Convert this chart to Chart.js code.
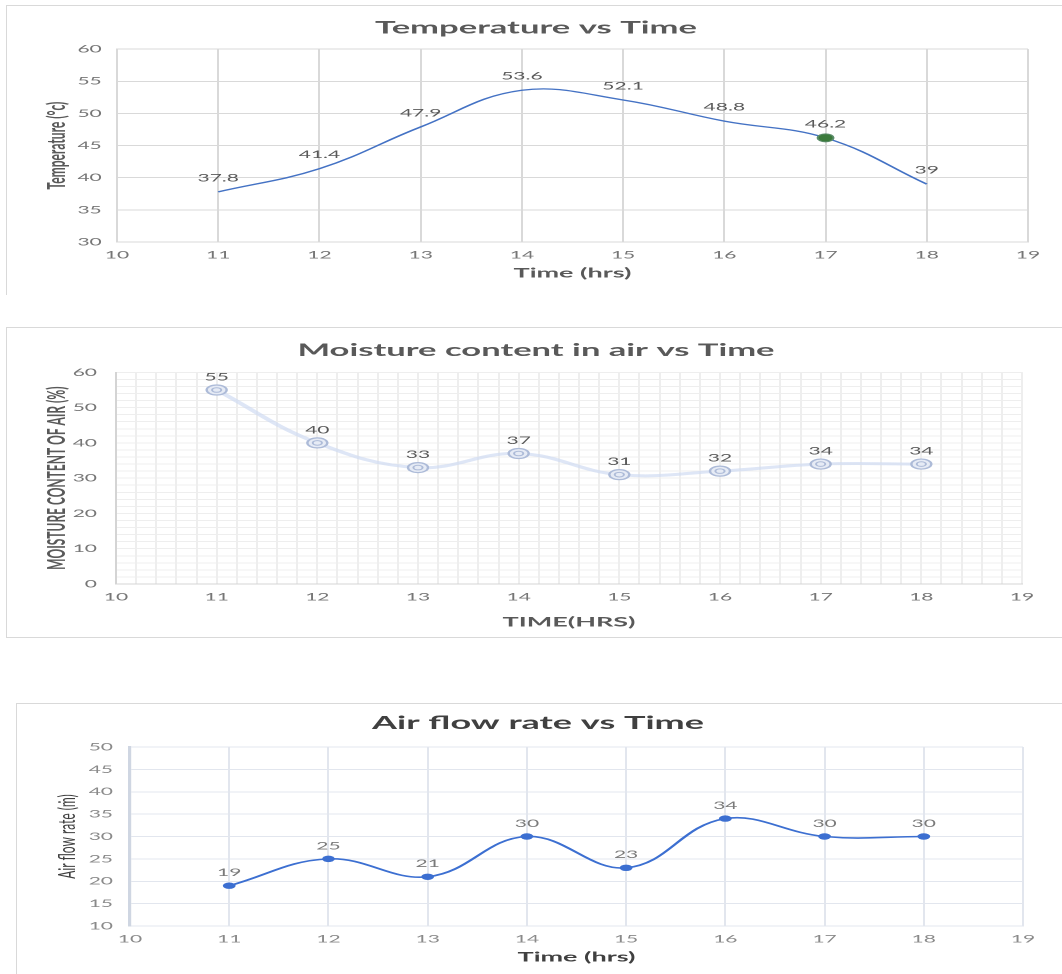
<!DOCTYPE html>
<html><head><meta charset="utf-8">
<script src="https://cdn.jsdelivr.net/npm/chart.js@4.4.1/dist/chart.umd.min.js"></script>
<style>
html,body{margin:0;padding:0;background:#fff;width:1062px;height:974px;overflow:hidden;position:relative}
.box{position:absolute;border:0 solid #d9d9d9;box-sizing:border-box}
.wrap{position:absolute;transform:scaleX(2);transform-origin:0 0}
</style></head><body>
<div class="box" style="left:6px;top:5px;width:1100px;height:290px;border-left-width:1px;border-top-width:1px"></div>
<div class="box" style="left:6px;top:327px;width:1100px;height:311px;border-left-width:1px;border-top-width:1px;border-bottom-width:1px"></div>
<div class="box" style="left:16px;top:703px;width:1100px;height:300px;border-left-width:1px;border-top-width:1px"></div>
<div class="wrap" style="left:6px;top:5px;width:530px;height:285px"><canvas id="c1"></canvas></div>
<div class="wrap" style="left:6px;top:327px;width:530px;height:310px"><canvas id="c2"></canvas></div>
<div class="wrap" style="left:16px;top:703px;width:522px;height:271px"><canvas id="c3"></canvas></div>
<script>
// ---- data ----
const hours = [11, 12, 13, 14, 15, 16, 17, 18];
const temperature = [37.8, 41.4, 47.9, 53.6, 52.1, 48.8, 46.2, 39];
const moisture = [55, 40, 33, 37, 31, 32, 34, 34];
const airflow = [19, 25, 21, 30, 23, 34, 30, 30];
const xRange = [10, 19];
const tempRange = [30, 60, 5];
const moistRange = [0, 60, 10];
const flowRange = [10, 50, 5];
const titles = ["Temperature vs Time", "Moisture content in air vs Time", "Air flow rate vs Time"];
const xTitles = ["Time (hrs)", "TIME(HRS)", "Time (hrs)"];
const yTitles = ["Temperature (°c)", "MOISTURE CONTENT OF AIR (%)", "Air flow rate (ṁ)"];
const highlightIndex = 6;

Chart.defaults.font.family = "Lato, 'Open Sans', sans-serif";
Chart.defaults.animation = false;

const toPts = arr => hours.map((h, i) => ({x: h, y: arr[i]}));

const labelPlugin = {
  id: 'ptLabels',
  afterDatasetsDraw(chart, args, o) {
    if (!o || !o.display) return;
    const ctx = chart.ctx;
    chart.data.datasets.forEach((ds, i) => {
      const meta = chart.getDatasetMeta(i);
      ctx.save();
      ctx.font = (o.weight || 'normal') + ' ' + o.size + 'px Lato, sans-serif';
      ctx.fillStyle = o.color;
      ctx.textAlign = 'center';
      ctx.textBaseline = 'middle';
      meta.data.forEach((el, j) => {
        ctx.fillText(String(ds.data[j].y), el.x, el.y - o.offset);
      });
      ctx.restore();
    });
  }
};
const ringPlugin = {
  id: 'innerRing',
  afterDatasetsDraw(chart, args, o) {
    if (!o || !o.display) return;
    const ctx = chart.ctx;
    chart.data.datasets.forEach((ds, i) => {
      const meta = chart.getDatasetMeta(i);
      ctx.save();
      ctx.strokeStyle = o.color;
      ctx.lineWidth = o.width;
      meta.data.forEach(el => {
        ctx.beginPath();
        ctx.arc(el.x, el.y, o.radius, 0, Math.PI * 2);
        ctx.stroke();
      });
      ctx.restore();
    });
  }
};

function baseScales(p) {
  return {
    x: {
      type: 'linear', min: xRange[0], max: xRange[1],
      ticks: {stepSize: 1, color: p.tickColor, font: {size: 10.5}, padding: p.xTickPad, maxRotation: 0},
      grid: {color: p.gridColor, lineWidth: 1, drawTicks: false},
      border: {color: p.gridColor},
      title: {display: true, text: p.xTitle, color: p.titleColor, font: {size: 13.5, weight: 'bold'}, padding: {top: 0, bottom: p.xTitlePad}},
      afterFit: s => { s.height = p.xH; }
    },
    y: {
      type: 'linear', min: p.yr[0], max: p.yr[1],
      ticks: {stepSize: p.yr[2], color: p.tickColor, font: {size: 10.5}, padding: p.yTickPad},
      grid: {color: p.gridColor, lineWidth: 1, drawTicks: false},
      border: {color: p.yBorderColor || p.gridColor, width: p.yBorderWidth || 1},
      title: {display: true, text: p.yTitle, color: p.yTitleColor || p.titleColor, font: {size: 12, weight: p.yTitleWeight || 'bold'}, padding: {top: p.yTitlePad, bottom: 0}},
      afterFit: s => { s.width = p.yW; }
    },
    rpad: {
      type: 'linear', position: 'right', display: true,
      ticks: {display: false}, grid: {display: false, drawTicks: false}, border: {display: false},
      afterFit: s => { s.width = p.rightW; }
    }
  };
}

function titleOpt(text, color, size, pt, pb) {
  return {display: true, text, color, font: {size, weight: 'bold'}, padding: {top: pt, bottom: pb}};
}

// Chart 1
new Chart(document.getElementById('c1'), {
  type: 'line',
  data: {datasets: [{
    data: toPts(temperature),
    borderColor: '#4472C4', borderWidth: 1.3, tension: 0.4,
    pointRadius: c => c.dataIndex === highlightIndex ? 4 : 0,
    pointBackgroundColor: '#3b7a3b', pointBorderColor: '#5b8c6a', pointBorderWidth: 1
  }]},
  options: {
    responsive: true, maintainAspectRatio: false, devicePixelRatio: 2,
    layout: {padding: 0},
    plugins: {
      legend: {display: false}, tooltip: {enabled: false},
      title: titleOpt(titles[0], '#595959', 17.3, 12.6, 10.8),
      ptLabels: {display: true, size: 10.5, color: '#595959', offset: 14}
    },
    scales: baseScales({yr: tempRange, xTitle: xTitles[0], yTitle: yTitles[0], tickColor: '#767676', gridColor: '#d9d9d9',
      titleColor: '#595959', xTickPad: 7, xTitlePad: 8.9, xH: 48, yTickPad: 7.6, yTitlePad: 18.3, yW: 55.5, rightW: 19})
  },
  plugins: [labelPlugin]
});

// Chart 2
const s2 = baseScales({yr: moistRange, xTitle: xTitles[1], yTitle: yTitles[1], tickColor: '#767676', gridColor: '#d4d4d4',
  titleColor: '#595959', xTickPad: 7, xTitlePad: 6.9, xH: 53, yTickPad: 9.5, yTitlePad: 18.3, yW: 55, rightW: 22});
s2.xm = {type: 'linear', position: 'bottom', min: xRange[0], max: xRange[1], z: -1,
  ticks: {display: false, stepSize: 0.2, maxTicksLimit: 200}, grid: {color: '#eeeeee', drawTicks: false}, border: {display: false},
  afterFit: s => { s.height = 0; }};
s2.ym = {type: 'linear', position: 'left', min: moistRange[0], max: moistRange[1], z: -1,
  ticks: {display: false, stepSize: 2, maxTicksLimit: 200}, grid: {color: '#eeeeee', drawTicks: false}, border: {display: false},
  afterFit: s => { s.width = 0; }};
new Chart(document.getElementById('c2'), {
  type: 'line',
  data: {datasets: [{
    data: toPts(moisture),
    borderColor: 'rgba(208,220,242,0.7)', borderWidth: 3, tension: 0.4,
    pointRadius: 5, pointBackgroundColor: '#e6ebf5', pointBorderColor: '#adbbd8', pointBorderWidth: 1.2
  }]},
  options: {
    responsive: true, maintainAspectRatio: false, devicePixelRatio: 2,
    layout: {padding: 0},
    plugins: {
      legend: {display: false}, tooltip: {enabled: false},
      title: titleOpt(titles[1], '#595959', 17.3, 12.8, 11.8),
      ptLabels: {display: true, size: 10.5, color: '#595959', offset: 13},
      innerRing: {display: true, radius: 2.3, color: '#adbbd8', width: 1}
    },
    scales: s2
  },
  plugins: [ringPlugin, labelPlugin]
});

// Chart 3
new Chart(document.getElementById('c3'), {
  type: 'line',
  data: {datasets: [{
    data: toPts(airflow),
    borderColor: '#3c6fd1', borderWidth: 1.6, tension: 0.4,
    pointRadius: 3.2, pointBackgroundColor: '#3c6fd1', pointBorderColor: '#3c6fd1', pointBorderWidth: 0
  }]},
  options: {
    responsive: true, maintainAspectRatio: false, devicePixelRatio: 2,
    layout: {padding: 0},
    plugins: {
      legend: {display: false}, tooltip: {enabled: false},
      title: titleOpt(titles[2], '#404040', 18, 9.6, 12.8),
      ptLabels: {display: true, size: 10.5, color: '#7a7a7a', offset: 13}
    },
    scales: baseScales({yr: flowRange, xTitle: xTitles[2], yTitle: yTitles[2], tickColor: '#8a8a8a', gridColor: '#e2e6ee',
      titleColor: '#404040', xTickPad: 7, xTitlePad: 8.9, xH: 48, yTickPad: 8.5, yTitlePad: 18.5, yW: 57, rightW: 18.5,
      yBorderColor: '#cfd6e2', yBorderWidth: 1.6, yTitleWeight: 'normal'})
  },
  plugins: [labelPlugin]
});
</script>
</body></html>
